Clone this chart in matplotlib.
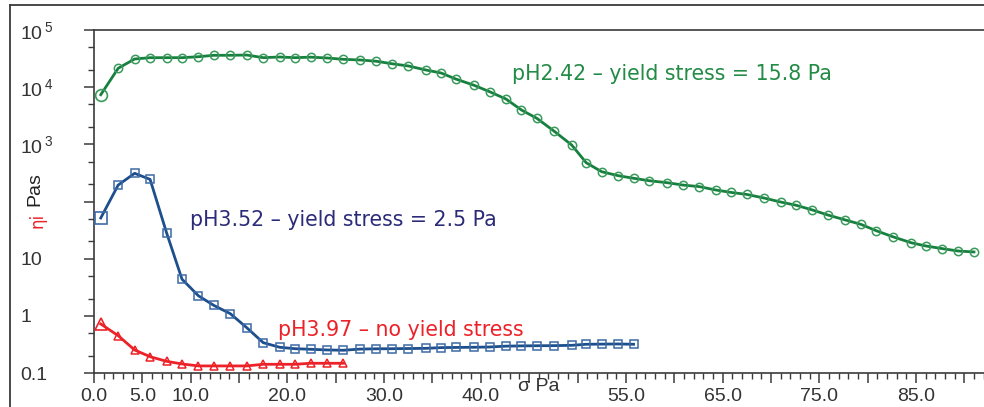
import numpy as np
import matplotlib
matplotlib.use('Agg')
import matplotlib.pyplot as plt
from matplotlib.ticker import FixedLocator, LogLocator, FuncFormatter, NullFormatter
from matplotlib.lines import Line2D

W, H = 984, 407

# shear stress steps (Pa), shared by all three runs
stress = [0.7, 2.5, 4.2, 5.8, 7.5, 9.1, 10.8, 12.4, 14.1, 15.8, 17.5, 19.2, 20.8,
          22.4, 24.1, 25.8, 27.5, 29.2, 30.8, 32.5, 34.3, 35.9, 37.4, 39.3, 40.9,
          42.6, 44.2, 45.8, 47.6, 49.4, 50.9, 52.5, 54.2, 55.8, 57.4, 59.3, 60.9,
          62.6, 64.3, 65.9, 67.5, 69.3, 71.0, 72.6, 74.3, 75.9, 77.7, 79.3, 80.9,
          82.6, 84.5, 86.0, 87.7, 89.4, 91.0]

# viscosity (Pa s)
eta_ph242 = [7380, 21400, 31100, 32800, 32800, 32800, 34100, 36100, 36100, 36500,
             32800, 33700, 32800, 33500, 32400, 30700, 29900, 28400, 25700, 23500,
             20000, 17700, 13900, 10800, 8340, 6210, 3990, 2850, 1690, 973, 477,
             332, 283, 255, 231, 213, 194, 182, 159, 144, 133, 115, 98, 86, 71, 58,
             47.5, 39.9, 30.8, 24.2, 19.0, 16.7, 15.0, 13.6, 13.1]
eta_ph352 = [51.5, 194, 311, 244, 28.5, 4.38, 2.24, 1.52, 1.09, 0.62, 0.339, 0.282,
             0.266, 0.26, 0.253, 0.25, 0.262, 0.265, 0.266, 0.268, 0.27, 0.278, 0.28,
             0.282, 0.285, 0.295, 0.298, 0.3, 0.301, 0.305, 0.318, 0.32, 0.322, 0.318]
eta_ph397 = [0.72, 0.45, 0.253, 0.193, 0.160, 0.144, 0.133, 0.133, 0.133, 0.133,
             0.142, 0.142, 0.142, 0.148, 0.148, 0.148]

x_labelled = [0, 5, 10, 20, 30, 40, 55, 65, 75, 85]
y_labels = {1e5: '$\\mathregular{10^{\\,5}}$', 1e4: '$\\mathregular{10^{\\,4}}$',
            1e3: '$\\mathregular{10^{\\,3}}$', 1e2: '', 10: '10', 1: '1', 0.1: '0.1'}

green_line, green_mk, green_txt = '#17803f', '#3a9a5c', '#228b45'
blue_line, blue_mk, blue_txt = '#1d4f8c', '#3d6aa6', '#2c2b7a'
red_line = '#ec2228'
axis_col = '#3a3a3a'

plt.rcParams['font.family'] = ['Liberation Sans', 'DejaVu Sans']
plt.rcParams['mathtext.fontset'] = 'custom'
plt.rcParams['mathtext.rm'] = 'Liberation Sans'

fig = plt.figure(figsize=(W/100., H/100.), dpi=100)
ax = fig.add_axes([94./W, 34./H, 910./W, 343./H])

series = [(stress[:len(eta_ph242)], eta_ph242, green_line, green_mk, 'o'),
          (stress[:len(eta_ph352)], eta_ph352, blue_line, blue_mk, 's'),
          (stress[:len(eta_ph397)], eta_ph397, red_line, red_line, '^')]
for xs, ys, lc, mc, mk in series:
    ax.plot(xs, ys, color=lc, lw=2.0, zorder=2)
    ax.plot(xs[1:], ys[1:], ls='none', marker=mk, ms=6, mfc='none', mec=mc,
            mew=1.1, zorder=3)
    ax.plot(xs[:1], ys[:1], ls='none', marker=mk, ms=8.5, mfc='none', mec=mc,
            mew=1.2, zorder=3)

ax.set_yscale('log')
ax.set_ylim(0.1, 1e5)
ax.set_xlim(0, 910/9.67)

for s in ['left', 'bottom', 'top']:
    ax.spines[s].set_color(axis_col)
    ax.spines[s].set_linewidth(1.2)
ax.spines['right'].set_visible(False)

ax.xaxis.set_major_locator(FixedLocator(np.arange(0, 95, 5)))
ax.xaxis.set_minor_locator(FixedLocator(np.arange(0, 95, 1)))
ax.xaxis.set_major_formatter(FuncFormatter(
    lambda v, p: '%.1f' % v if int(round(v)) in x_labelled else ''))
ax.yaxis.set_major_locator(FixedLocator(list(y_labels.keys())))
ax.yaxis.set_minor_locator(LogLocator(base=10, subs=(2, 5)))
ax.yaxis.set_minor_formatter(NullFormatter())
ax.yaxis.set_major_formatter(FuncFormatter(
    lambda v, p: y_labels.get(min(y_labels, key=lambda k: abs(np.log10(k) - np.log10(v))), '')))

ax.tick_params(axis='x', which='major', length=7, width=1.1, color=axis_col,
               labelsize=14, labelcolor='#333333', pad=4)
ax.tick_params(axis='x', which='minor', length=4, width=1.0, color=axis_col)
ax.tick_params(axis='y', which='major', length=7, width=1.1, color=axis_col,
               labelsize=14, labelcolor='#333333', pad=46)
ax.tick_params(axis='y', which='minor', length=4, width=1.0, color=axis_col)
for lab in ax.get_yticklabels():
    lab.set_horizontalalignment('left')

# axis titles
ax.text(46.0, 0.1, '\u03c3 Pa', transform=ax.transData, ha='center', va='top',
        fontsize=14, color='#333333')
ax.texts[-1].set_position((46.0, 10**(5 - (378 - 30)/57.17)))
fig.text(35./W, 1 - 189./H, 'Pas', rotation=90, ha='center', va='center',
         fontsize=14, color='#222222')
fig.text(37./W, 1 - 220./H, '\u03b7i', rotation=90, ha='center', va='center',
         fontsize=12, color=red_line, family=['DejaVu Sans'])

# annotations
ax.text(43.2, 13300, 'pH2.42 \u2013 yield stress = 15.8 Pa', fontsize=14.8,
        color=green_txt, family=['DejaVu Sans'], va='baseline')
ax.text(9.93, 37.3, 'pH3.52 \u2013 yield stress = 2.5 Pa', fontsize=14.8,
        color=blue_txt, family=['DejaVu Sans'], va='baseline')
ax.text(19.0, 0.435, 'pH3.97 \u2013 no yield stress', fontsize=14.8,
        color=red_line, family=['DejaVu Sans'], va='baseline')

# outer frame
fig.add_artist(Line2D([9.5/W, 9.5/W], [0, 1 - 5./H], color=axis_col, lw=1.3))
fig.add_artist(Line2D([9.5/W, 1], [1 - 5./H, 1 - 5./H], color=axis_col, lw=1.3))

fig.savefig('out.png', dpi=100, facecolor='white')
